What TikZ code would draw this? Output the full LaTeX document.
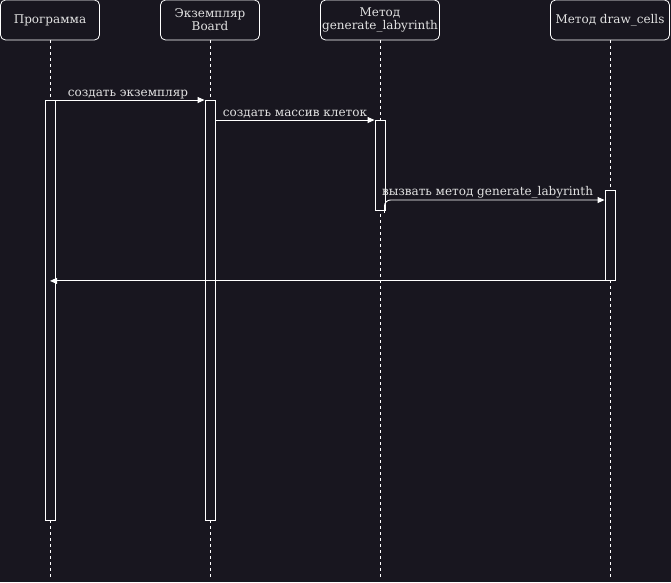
\documentclass[tikz,border=0pt]{standalone}
\usepackage{fontspec}
\setmainfont{DejaVu Serif}
\usetikzlibrary{arrows.meta,calc}
\definecolor{bg}{RGB}{24,22,31}
\definecolor{fg}{RGB}{226,226,226}
\begin{document}
\begin{tikzpicture}[x=1pt,y=-1pt,
  head/.style={draw=white, line width=0.8pt, fill=bg, rounded corners=5pt, text=fg, align=center,
    font=\fontsize{12}{13}\selectfont, inner sep=0pt, minimum height=40pt},
  bar/.style={draw=white, fill=bg, line width=0.9pt, minimum width=10pt, inner sep=0pt, anchor=north},
  life/.style={draw=white, dashed, dash pattern=on 3pt off 3pt, line width=0.8pt},
  msg/.style={draw=white, line width=0.9pt, -{Triangle[width=6pt,length=7pt]}},
  lbl/.style={text=fg, font=\fontsize{12}{13}\selectfont, inner sep=1pt, anchor=south}]
\fill[bg] (0,0) rectangle (671,582);
\useasboundingbox (0,0) rectangle (671,582);
% headers
\node[head, minimum width=99pt] (h1) at (50,20) {Программа};
\node[head, minimum width=99pt] (h2) at (210,20) {Экземпляр\\Board};
\node[head, minimum width=119pt] (h3) at (380,20) {Метод\\generate\_labyrinth};
\node[head, minimum width=119pt] (h4) at (610,20) {Метод draw\_cells};
% lifeline ends
\coordinate (e1) at (50,578);
\coordinate (e2) at (210,578);
\coordinate (e3) at (380,578);
\coordinate (e4) at (610,578);
\draw[life] (h1.south) -- (e1);
\draw[life] (h2.south) -- (e2);
\draw[life] (h3.south) -- (e3);
\draw[life] (h4.south) -- (e4);
% activation bars
\node[bar, minimum height=420pt] (b1) at (50,100) {};
\node[bar, minimum height=420pt] (b2) at (210,100) {};
\node[bar, minimum height=90pt] (b3) at (380,120) {};
\node[bar, minimum height=90pt] (b4) at (610,190) {};
% messages
\draw[msg] (b1.north east) -- (b2.north west)
  node[lbl, midway, xshift=-2pt] {создать экземпляр};
\draw[msg] (b2.east |- b3.north) -- (b3.north west)
  node[lbl, midway] {создать массив клеток};
\coordinate (s3) at ([xshift=-1pt,yshift=-2pt]b3.south east);
\coordinate (t3) at ([yshift=-10pt]b4.north west);
\draw[msg, rounded corners=6pt] (s3) |- (t3);
\node[lbl, xshift=-7pt] at ($(s3|-t3)!0.5!(t3)$) {вызвать метод generate\_labyrinth};
\draw[msg] (b4.south east) -- (b1.center |- b4.south);
\end{tikzpicture}
\end{document}
